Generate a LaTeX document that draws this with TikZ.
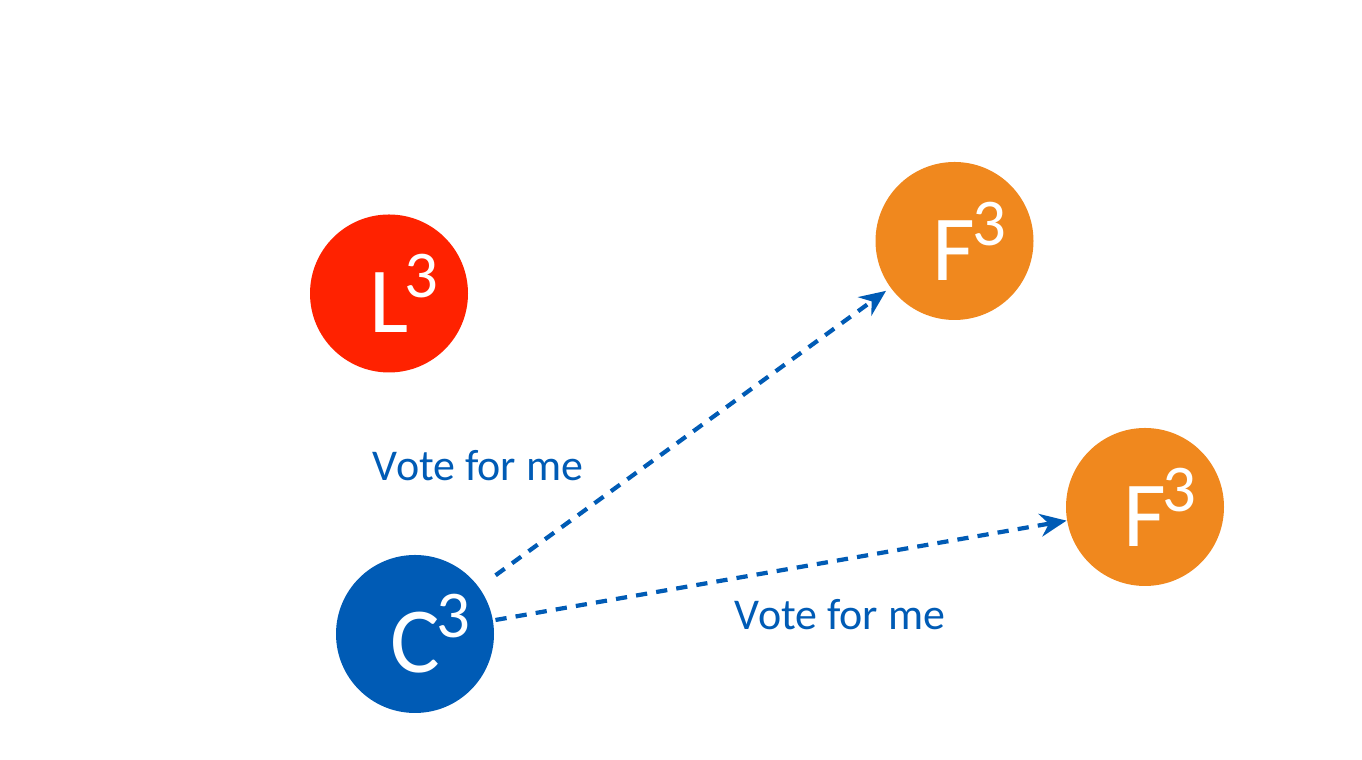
\documentclass[tikz,border=0pt]{standalone}
\usepackage{fontspec}
\setmainfont{Carlito}
\usetikzlibrary{arrows.meta,positioning}
\definecolor{leadred}{HTML}{FF2200}
\definecolor{follorange}{HTML}{F0881E}
\definecolor{candblue}{HTML}{005BB5}
\newcommand{\term}[1]{\hspace{0.3cm}#1\kern-1pt\raisebox{0.35cm}{\fontsize{19}{19}\selectfont 3}}
\tikzset{
  srv/.style={circle,inner sep=0pt,minimum size=1.58cm,text=white,
    font=\fontsize{26.5}{26.5}\selectfont},
  leader/.style={srv,fill=leadred},
  follower/.style={srv,fill=follorange},
  candidate/.style={srv,fill=candblue},
  vote/.style={draw=candblue,line width=1.2pt,dash pattern=on 3.2pt off 2.6pt,
    -{Stealth[length=7.5pt,width=6.5pt]}},
  vlab/.style={font=\fontsize{12.5}{12.5}\selectfont,text=candblue,inner sep=0pt},
}
\begin{document}
\begin{tikzpicture}
  \useasboundingbox (0,0) rectangle (13.62,7.6);
  \node[leader](ldr) at (3.89,4.665){\term{L}};
  \node[follower](fa) at (9.545,5.19){\term{F}};
  \node[follower](fb) at (11.45,2.53){\term{F}};
  \node[candidate](cnd) at (4.15,1.26){\term{C}};
  \draw[vote,shorten <=0.2cm,shorten >=0.05cm](cnd)--(fa);
  \draw[vote,shorten <=0.02cm](cnd)--(fb);
  \node[vlab](la) at (4.78,2.94){Vote for me};
  \node[vlab](lb) at (8.40,1.45){Vote for me};
\end{tikzpicture}
\end{document}
